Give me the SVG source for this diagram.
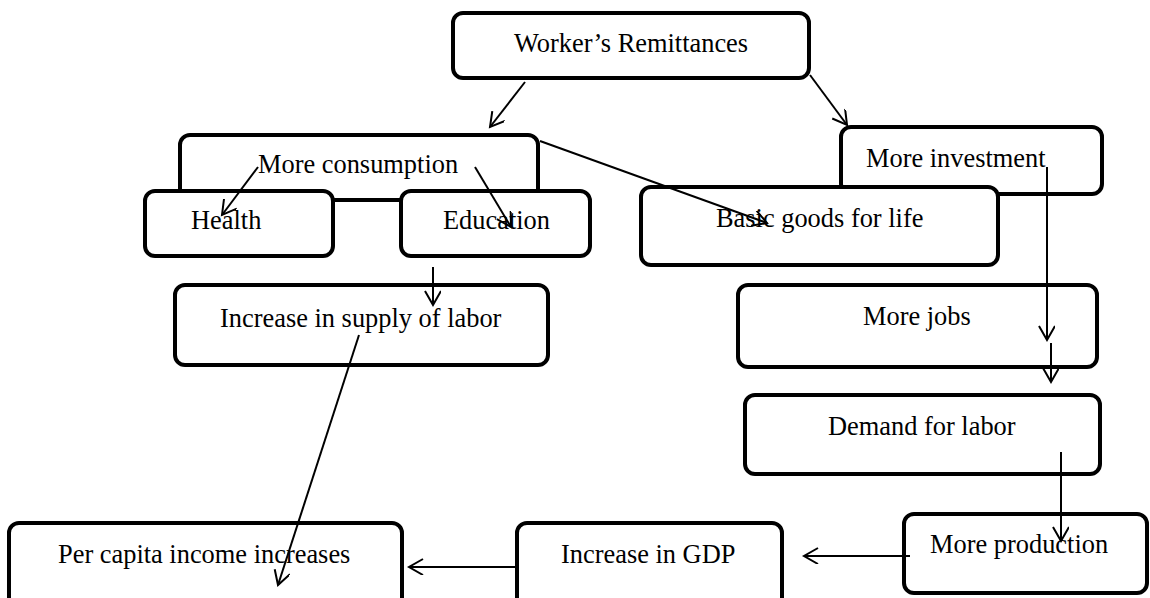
<svg xmlns="http://www.w3.org/2000/svg" width="1150" height="598" viewBox="0 0 1150 598">
<style>
.box{fill:#fff;stroke:#000;stroke-width:4}
.t{font-family:"Liberation Serif","Times New Roman",serif;font-size:26.4px;fill:#000}
.c{stroke:#000;stroke-width:2;fill:none;marker-end:url(#ah)}
</style>
<defs>
<marker id="ah" markerUnits="userSpaceOnUse" markerWidth="18" markerHeight="18" viewBox="0 0 18 18" refX="15" refY="8" orient="auto">
<path d="M1,0 L15,8 L1,16" fill="none" stroke="#000" stroke-width="2"/>
</marker>
</defs>
<rect width="1150" height="598" fill="#fff"/>
<g id="n-worker"><rect class="box" x="453" y="13" width="356" height="65" rx="10"/><text class="t" x="514" y="52">Worker’s Remittances</text></g>
<g id="n-consumption"><rect class="box" x="180" y="135" width="358" height="65" rx="10"/><text class="t" x="258" y="173">More consumption</text></g>
<g id="n-health"><rect class="box" x="145" y="191" width="188" height="65" rx="10"/><text class="t" x="191" y="229">Health</text></g>
<g id="n-education"><rect class="box" x="401" y="191" width="189" height="65" rx="10"/><text class="t" x="443" y="229">Education</text></g>
<g id="n-investment"><rect class="box" x="841" y="127" width="261" height="67" rx="10"/><text class="t" x="866" y="167">More investment</text></g>
<g id="n-basic"><rect class="box" x="641" y="187" width="357" height="78" rx="10"/><text class="t" x="716" y="227">Basic goods for life</text></g>
<g id="n-supply"><rect class="box" x="175" y="285" width="373" height="80" rx="10"/><text class="t" x="220" y="327">Increase in supply of labor</text></g>
<g id="n-jobs"><rect class="box" x="738" y="285" width="359" height="82" rx="10"/><text class="t" x="863" y="325">More jobs</text></g>
<g id="n-demand"><rect class="box" x="745" y="395" width="355" height="79" rx="10"/><text class="t" x="828" y="435">Demand for labor</text></g>
<g id="n-production"><rect class="box" x="904" y="514" width="243" height="79" rx="10"/><text class="t" x="930" y="553">More production</text></g>
<g id="n-gdp"><rect class="box" x="517" y="523" width="265" height="90" rx="10"/><text class="t" x="561" y="563">Increase in GDP</text></g>
<g id="n-percapita"><rect class="box" x="9" y="523" width="393" height="90" rx="10"/><text class="t" x="58" y="563">Per capita income increases</text></g>
<g id="connectors">
<line class="c" x1="525" y1="82" x2="490" y2="127"/>
<line class="c" x1="810" y1="75" x2="847" y2="125"/>
<line class="c" x1="540" y1="141" x2="767" y2="223"/>
<line class="c" x1="258" y1="167" x2="222" y2="215"/>
<line class="c" x1="475" y1="167" x2="511" y2="227"/>
<line class="c" x1="433" y1="267" x2="433" y2="305"/>
<line class="c" x1="359" y1="335" x2="278" y2="585"/>
<line class="c" x1="1047" y1="167" x2="1047" y2="340"/>
<line class="c" x1="1051" y1="343" x2="1051" y2="382"/>
<line class="c" x1="1061" y1="452" x2="1061" y2="541"/>
<line class="c" x1="910" y1="556" x2="804" y2="556"/>
<line class="c" x1="515" y1="567" x2="409" y2="567"/>
</g>
</svg>
